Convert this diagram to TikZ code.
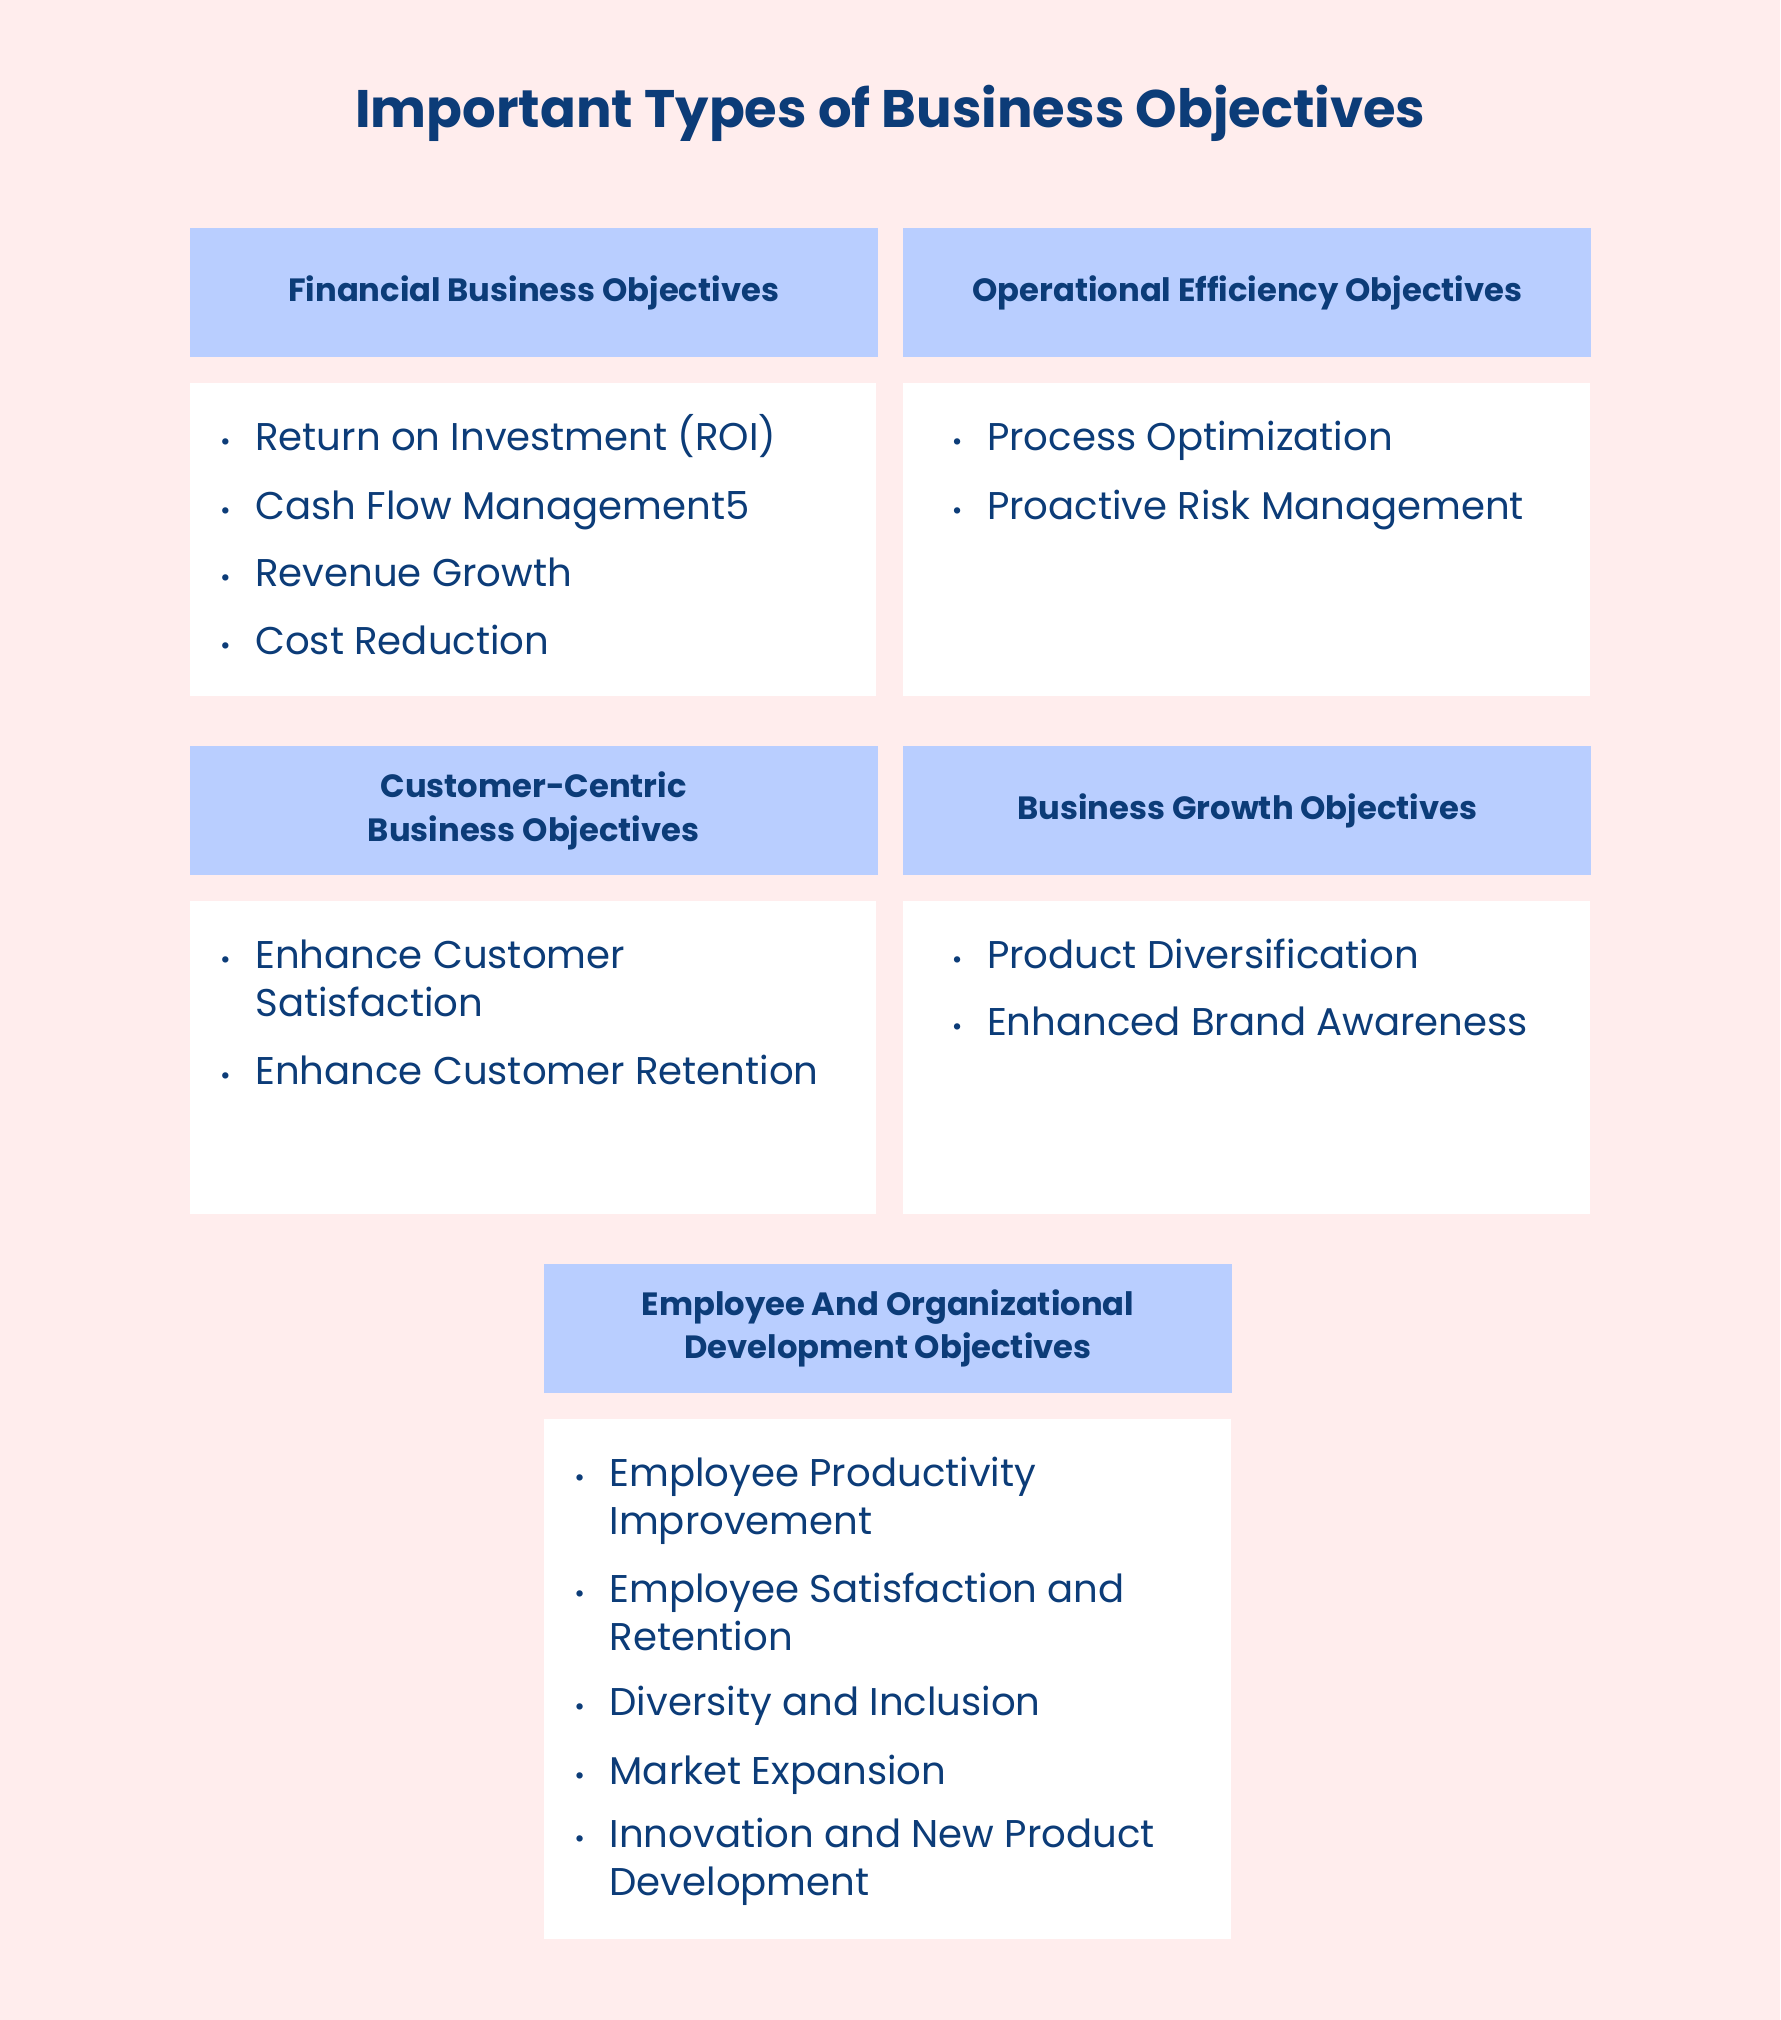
\documentclass[tikz,border=0pt]{standalone}
\usepackage{fontspec}
\setmainfont{Poppins}
\definecolor{bg}{HTML}{FFEDED}
\definecolor{hd}{HTML}{B9CEFF}
\definecolor{tx}{HTML}{0C3C78}
\begin{document}
\begin{tikzpicture}[x=1pt,y=-1pt,
 hdr/.style={fill=hd,draw=none,minimum width=534pt,minimum height=100pt,anchor=north west,text=tx,font=\fontsize{25}{34}\selectfont\bfseries,align=center},
 body/.style={fill=white,draw=none,minimum width=533pt,anchor=north west},
 it/.style={anchor=base west,text=tx,font=\fontsize{30}{37}\selectfont,inner sep=0pt},
 bl/.style={anchor=base,text=tx,font=\fontsize{20}{20}\selectfont,inner sep=0pt}]
\fill[bg] (0,0) rectangle (1382,1568);
\useasboundingbox (0,0) rectangle (1382,1568);
\node[text=tx,font=\fontsize{41}{41}\selectfont\bfseries] (title) at (691,88) {Important Types of Business Objectives};
\node[hdr] (h1) at (147,177) {Financial Business Objectives};
\node[hdr] (h2) at (701,177) {Operational Efficiency Objectives};
\node[hdr] (h3) at (147,579) {Customer-Centric\\Business Objectives};
\node[hdr] (h4) at (701,579) {Business Growth Objectives};
\node[hdr] (h5) at (422,981) {Employee And Organizational\\Development Objectives};
\node[body,minimum height=243pt] (b1) at (147,297) {};
\node[body,minimum height=243pt] (b2) at (701,297) {};
\node[body,minimum height=243pt] (b3) at (147,699) {};
\node[body,minimum height=243pt] (b4) at (701,699) {};
\node[body,minimum height=404pt] (b5) at (422,1101) {};
\newcommand\itm[4]{\node[bl] at (#1,#3) {•};\node[it] (#4) at (#1+23,#3) {#2};}
\newcommand\cont[3]{\node[it] (#3) at (#1+23,#2) {};}
\itm{175}{Return on Investment (ROI)}{350}{i1}
\itm{175}{Cash Flow Management5}{403}{i2}
\itm{175}{Revenue Growth}{455}{i3}
\itm{175}{Cost Reduction}{508}{i4}
\itm{743}{Process Optimization}{350}{i5}
\itm{743}{Proactive Risk Management}{403}{i6}
\itm{175}{Enhance Customer}{752}{i7}
\node[it] (i7b) at (198,789) {Satisfaction};
\itm{175}{Enhance Customer Retention}{842}{i8}
\itm{743}{Product Diversification}{752}{i9}
\itm{743}{Enhanced Brand Awareness}{804}{i10}
\itm{450}{Employee Productivity}{1154}{i11}
\node[it] (i11b) at (473,1191) {Improvement};
\itm{450}{Employee Satisfaction and}{1244}{i12}
\node[it] (i12b) at (473,1281) {Retention};
\itm{450}{Diversity and Inclusion}{1332}{i13}
\itm{450}{Market Expansion}{1385}{i14}
\itm{450}{Innovation and New Product}{1434}{i15}
\node[it] (i15b) at (473,1471) {Development};
\end{tikzpicture}
\end{document}
